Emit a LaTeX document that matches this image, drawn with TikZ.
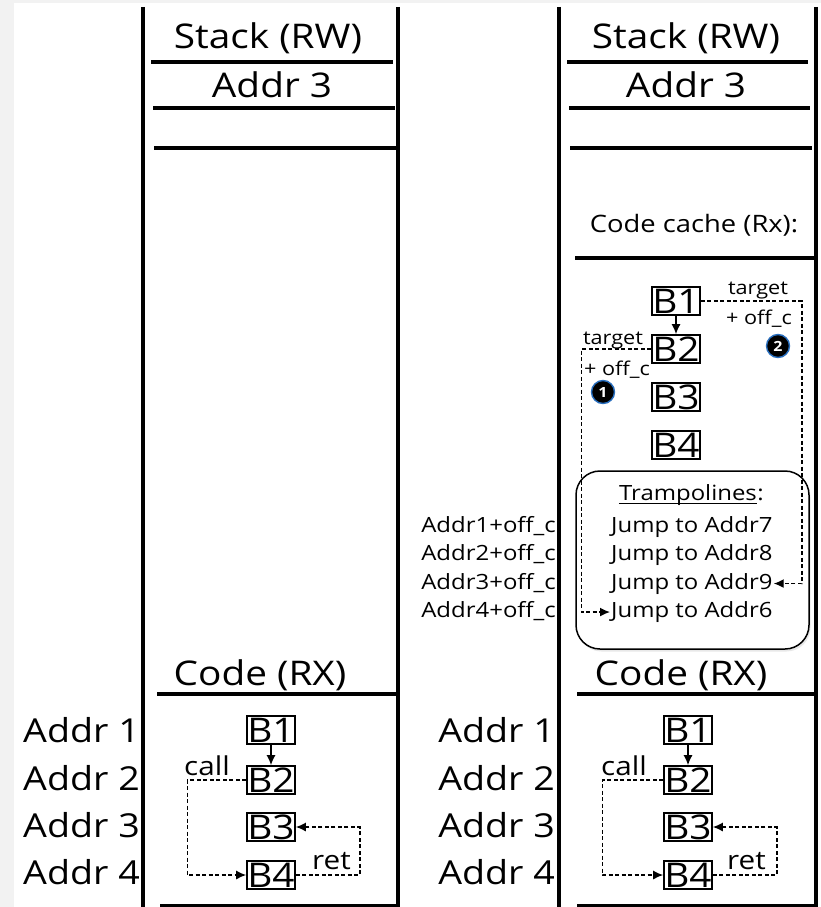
\documentclass[tikz,border=0pt]{standalone}
\usepackage{fontspec}
\setmainfont[FakeStretch=1.14]{Open Sans}
\usetikzlibrary{arrows.meta,shadows}
\definecolor{margin}{RGB}{242,242,242}
\definecolor{rim}{RGB}{40,110,190}

\begin{document}
\begin{tikzpicture}[x=1pt,y=-1pt,
  wall/.style={line width=3.5pt},
  big/.style={font=\fontsize{34}{40}\selectfont},
  addr/.style={font=\fontsize{33}{38}\selectfont, anchor=east, inner sep=0pt},
  blk/.style={draw, line width=1.6pt, inner sep=0pt, minimum width=48pt,
              minimum height=28pt, font=\fontsize{34}{38}\selectfont},
  flow/.style={line width=1.5pt, -{Latex[length=10pt,width=9pt]}},
  jump/.style={line width=1.4pt, dash pattern=on 4pt off 2.5pt,
               -{Latex[length=10pt,width=9pt]}},
  small/.style={font=\fontsize{21}{24}\selectfont, inner sep=0pt},
  tag/.style={font=\fontsize{19}{22}\selectfont, inner sep=0pt},
  lbl/.style={font=\fontsize{26}{30}\selectfont, inner sep=0pt},
  badge/.style={circle, fill=black, draw=rim, line width=1.4pt,
                minimum size=23pt, inner sep=0pt, text=white,
                font=\fontsize{14}{15}\selectfont\bfseries}
]
% page and margins
\fill[margin] (0,0) rectangle (821,907);
\fill[white] (14,3) rectangle (821,907);
\useasboundingbox (0,0) rectangle (821,907);

% ---------------- left memory map ----------------
\draw[wall] (143,7) -- (143,907);
\draw[wall] (398,7) -- (398,907);
\node[big] (lstack) at (268,38) {Stack (RW)};
\draw[wall] (151,62) -- (393,62);
\node[big] (laddr) at (272,85) {Addr 3};
\draw[wall] (153,108) -- (395,108);
\draw[wall] (154,148) -- (396,148);
\node[big] (lcode) at (260,675) {Code (RX)};
\draw[wall] (157,694) -- (398,694);
\draw[wall] (160,906) -- (398,906);

\node[addr] (la1) at (140,730) {Addr 1};
\node[addr] (la2) at (140,778) {Addr 2};
\node[addr] (la3) at (140,825) {Addr 3};
\node[addr] (la4) at (140,872) {Addr 4};

\node[blk] (lb1) at (271,730) {B1};
\node[blk] (lb2) at (271,780) {B2};
\node[blk] (lb3) at (271,827) {B3};
\node[blk] (lb4) at (271,875) {B4};
\draw[flow] (lb1) -- (lb2);
\draw[jump] (lb2.west) -- ++(-59,0) |- (lb4.west);
\draw[jump] (lb4.east) -- ++(64,0) |- (lb3.east);
\node[lbl, anchor=base west] (lcall) at (184,775) {call};
\node[lbl, anchor=base west] (lret) at (312,869) {ret};

% ---------------- right memory map ----------------
\draw[wall] (559,7) -- (559,907);
\draw[wall] (816,7) -- (816,907);
\node[big] (rstack) at (686,38) {Stack (RW)};
\draw[wall] (567,62) -- (808,62);
\node[big] (raddr) at (686,85) {Addr 3};
\draw[wall] (569,108) -- (810,108);
\draw[wall] (570,148) -- (812,148);
\node[font=\fontsize{24}{28}\selectfont] (cache) at (694,225) {Code cache (Rx):};
\draw[wall] (575,258) -- (815,258);

% trampolines
\draw[line width=1.5pt, rounded corners=24pt, fill=white,
      drop shadow={opacity=0.18, shadow xshift=1.5pt, shadow yshift=-2.5pt}]
  (576,471) rectangle (809,649);
\node[small, anchor=base] (tramp) at (688,500) {Trampolines};
\node[small, anchor=base west] (colon) at (tramp.base east) {:};
\draw[line width=1pt] ([yshift=-3pt]tramp.base west) -- ([yshift=-3pt]tramp.base east);
\node[small, anchor=base west] (j7) at (611,532) {Jump to Addr7};
\node[small, anchor=base west] (j8) at (611,560.5) {Jump to Addr8};
\node[small, anchor=base west] (j9) at (611,589) {Jump to Addr9};
\node[small, anchor=base west] (j6) at (611,617.5) {Jump to Addr6};

\node[small, anchor=base east] (o1) at (556,532) {Addr1+off\_c};
\node[small, anchor=base east] (o2) at (556,560.5) {Addr2+off\_c};
\node[small, anchor=base east] (o3) at (556,589) {Addr3+off\_c};
\node[small, anchor=base east] (o4) at (556,617.5) {Addr4+off\_c};

% code cache blocks
\node[blk] (cb1) at (676,301) {B1};
\node[blk] (cb2) at (676,349) {B2};
\node[blk] (cb3) at (676,397) {B3};
\node[blk] (cb4) at (676,445) {B4};
\draw[flow] (cb1) -- (cb2);

% redirected branches
\draw[jump] (cb1.east) -- ++(101,0) |- ([xshift=1pt]j9.east);
\draw[jump] (cb2.west) -- ++(-70,0) |- ([xshift=-1pt]j6.west);
\node[tag] (t2) at (758,291) {target};
\node[tag] (f2) at (759,319) {+ off\_c};
\node[tag] (t1) at (613,341) {target};
\node[tag] (f1) at (617,370) {+ off\_c};
\node[badge] (n2) at (778,346) {2};
\node[badge] (n1) at (603,392) {1};

\node[big] (rcode) at (681,675) {Code (RX)};
\draw[wall] (577,694) -- (815,694);
\draw[wall] (577,906) -- (815,906);

\node[addr] (ra1) at (555,730) {Addr 1};
\node[addr] (ra2) at (555,778) {Addr 2};
\node[addr] (ra3) at (555,825) {Addr 3};
\node[addr] (ra4) at (555,872) {Addr 4};

\node[blk] (rb1) at (688,730) {B1};
\node[blk] (rb2) at (688,780) {B2};
\node[blk] (rb3) at (688,827) {B3};
\node[blk] (rb4) at (688,875) {B4};
\draw[flow] (rb1) -- (rb2);
\draw[jump] (rb2.west) -- ++(-61,0) |- (rb4.west);
\draw[jump] (rb4.east) -- ++(64,0) |- (rb3.east);
\node[lbl, anchor=base west] (rcall) at (601,775) {call};
\node[lbl, anchor=base west] (rret) at (727,869) {ret};
\end{tikzpicture}
\end{document}
